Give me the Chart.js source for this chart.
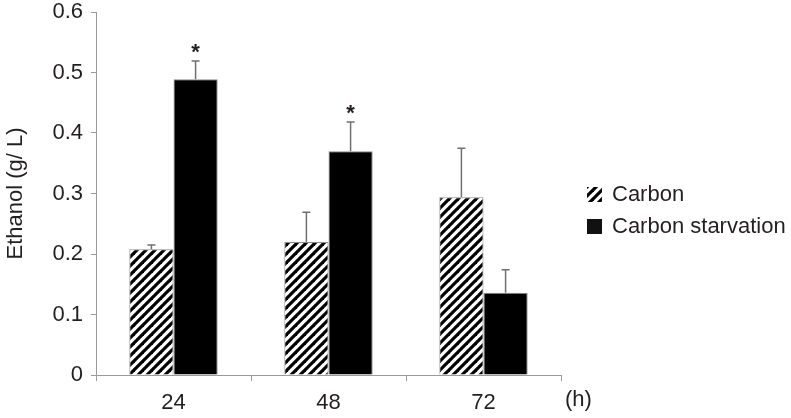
<!DOCTYPE html>
<html>
<head>
<meta charset="utf-8">
<script src="https://cdn.jsdelivr.net/npm/chart.js@4.4.0/dist/chart.umd.min.js"></script>
<style>
body{margin:0;background:#fff;}
#wrap{width:791px;height:418px;}
</style>
</head>
<body>
<div id="wrap"><canvas id="myChart"></canvas></div>
<script>
// values
const hours = ['24', '48', '72'];
const carbon = [0.208, 0.220, 0.294];
const carbonErr = [0.007, 0.049, 0.081];
const starvation = [0.489, 0.370, 0.136];
const starvationErr = [0.030, 0.048, 0.038];
const starvationMark = ['*', '*', ''];
const yTicks = [0, 0.1, 0.2, 0.3, 0.4, 0.5, 0.6];

const txt = '#231f20';
const axisGray = '#9a9a9a';
const font = '"Liberation Sans", Arial, sans-serif';

// diagonal hatch
function hatch(){
    const c = document.createElement('canvas');
    c.width = 9; c.height = 9;
    const g = c.getContext('2d');
    g.fillStyle = '#fff';
    g.fillRect(0, 0, 9, 9);
    g.strokeStyle = '#000';
    g.lineWidth = 3.2;
    for (let k = -9; k <= 9; k += 9){
        g.beginPath();
        g.moveTo(k - 2, 11);
        g.lineTo(k + 11, -2);
        g.stroke();
    }
    return document.getElementById('myChart').getContext('2d').createPattern(c, 'repeat');
}
const hatchFill = hatch();

const extras = {
    id: 'extras',
    afterDatasetsDraw(chart){
        const ctx = chart.ctx;
        const y = chart.scales.y;
        const errs = [carbonErr, starvationErr];
        ctx.save();
        ctx.strokeStyle = '#707070';
        ctx.lineWidth = 1.5;
        [0, 1].forEach(di => {
            const meta = chart.getDatasetMeta(di);
            meta.data.forEach((bar, i) => {
                const v = chart.data.datasets[di].data[i];
                const top = y.getPixelForValue(v + errs[di][i]);
                ctx.beginPath();
                ctx.moveTo(bar.x, bar.y);
                ctx.lineTo(bar.x, top);
                ctx.moveTo(bar.x - 4, top);
                ctx.lineTo(bar.x + 4, top);
                ctx.stroke();
                if (di == 1 && starvationMark[i]){
                    ctx.fillStyle = txt;
                    ctx.font = 'bold 22px ' + font;
                    ctx.textAlign = 'center';
                    ctx.textBaseline = 'alphabetic';
                    const m = ctx.measureText(starvationMark[i]);
                    const h = m.actualBoundingBoxAscent + m.actualBoundingBoxDescent;
                    const cy = top - 13;
                    ctx.fillText(starvationMark[i], bar.x, cy + m.actualBoundingBoxAscent - h / 2);
                }
            });
        });
        ctx.restore();
    },
    afterDraw(chart){
        const ctx = chart.ctx;
        ctx.save();
        ctx.font = '22px ' + font;
        ctx.fillStyle = txt;
        ctx.textBaseline = 'middle';
        ctx.textAlign = 'left';
        ctx.fillText('(h)', 565, 400);
        // legend
        const items = [
            {label: chart.data.datasets[0].label, fill: hatchFill, y: 187},
            {label: chart.data.datasets[1].label, fill: '#111', y: 219}
        ];
        items.forEach(it => {
            ctx.fillStyle = it.fill;
            ctx.fillRect(587, it.y, 15, 15);
            ctx.fillStyle = txt;
            ctx.fillText(it.label, 612, it.y + 8);
        });
        ctx.restore();
    }
};

let myChart = new Chart(document.getElementById('myChart').getContext('2d'), {
    type: 'bar',
    data: {
        labels: hours,
        datasets: [{
            label: 'Carbon',
            data: carbon,
            backgroundColor: hatchFill,
            borderColor: '#8a8a8a',
            borderWidth: 1
        },{
            label: 'Carbon starvation',
            data: starvation,
            backgroundColor: '#000',
            borderColor: '#8a8a8a',
            borderWidth: 1
        }]
    },
    options: {
        responsive: true,
        maintainAspectRatio: false,
        animation: false,
        events: [],
        layout: {padding: {top: 0, right: 230, left: 0, bottom: 0}},
        datasets: {bar: {categoryPercentage: 0.57, barPercentage: 1}},
        plugins: {
            legend: {display: false},
            tooltip: {enabled: false}
        },
        scales: {
            x: {
                afterFit: s => { s.height = 43; },
                grid: {offset: true, drawOnChartArea: false, drawTicks: true, tickLength: 6, color: axisGray},
                border: {display: true, color: axisGray},
                ticks: {color: txt, font: {size: 22, family: font}, padding: 9}
            },
            y: {
                min: 0,
                max: 0.6,
                afterFit: s => { s.width = 96; s.paddingTop = 12; },
                afterBuildTicks: s => { s.ticks = yTicks.map(v => ({value: v})); },
                grid: {drawOnChartArea: false, drawTicks: true, tickLength: 5, color: axisGray},
                border: {display: true, color: axisGray},
                ticks: {color: txt, font: {size: 22, family: font}, padding: 8},
                title: {
                    display: true,
                    text: 'Ethanol (g/ L)',
                    color: txt,
                    font: {size: 22, family: font},
                    padding: {top: 3, bottom: 0}
                }
            }
        }
    },
    plugins: [extras]
});
</script>
</body>
</html>
